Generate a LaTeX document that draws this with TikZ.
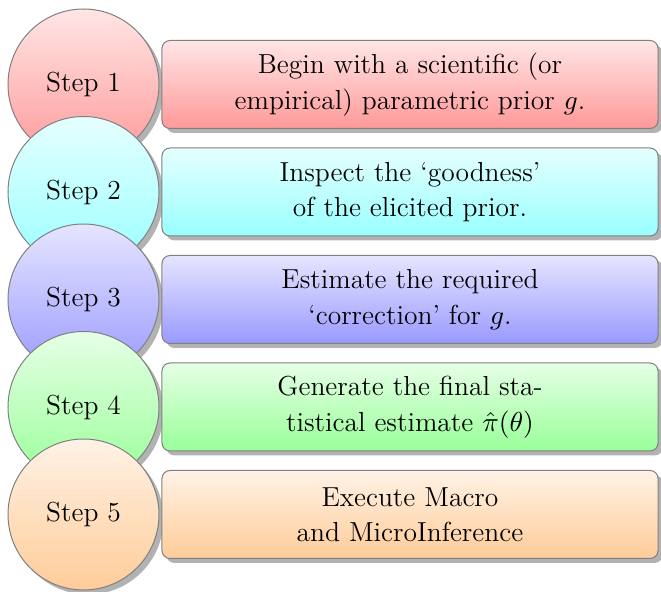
\documentclass[tikz,border=0pt]{standalone}
\usetikzlibrary{shadows}
\begin{document}
\begin{tikzpicture}[x=0.4pt,y=-0.4pt,font=\fontsize{11}{14.2}\selectfont,
  stepcircle/.style={circle, draw=black!50, minimum size=60.4pt, inner sep=0pt,
    drop shadow={fill=black!60, opacity=0.5, shadow xshift=1.8pt, shadow yshift=-1.8pt}},
  stepbox/.style={rectangle, rounded corners=3.2pt, draw=black!50, minimum width=198.4pt,
    minimum height=35.2pt, align=center, inner sep=0pt,
    drop shadow={fill=black!60, opacity=0.5, shadow xshift=1.8pt, shadow yshift=-1.8pt}}]
\useasboundingbox (0,0) rectangle (661,592);
\node[stepcircle, top color=red!10, bottom color=red!40] (c1) at (83.5,84.5) {Step 1};
\node[stepbox, top color=red!10, bottom color=red!40] (b1) at (410,84.5) {Begin with a scientific (or\\empirical) parametric prior $g$.};
\node[stepcircle, top color=cyan!10, bottom color=cyan!40] (c2) at (83.5,192) {Step 2};
\node[stepbox, top color=cyan!10, bottom color=cyan!40] (b2) at (410,192) {Inspect the `goodness'\\of the elicited prior.};
\node[stepcircle, top color=blue!10, bottom color=blue!40] (c3) at (83.5,299.5) {Step 3};
\node[stepbox, top color=blue!10, bottom color=blue!40] (b3) at (410,299.5) {Estimate the required\\`correction' for $g$.};
\node[stepcircle, top color=green!10, bottom color=green!40] (c4) at (83.5,407) {Step 4};
\node[stepbox, top color=green!10, bottom color=green!40] (b4) at (410,407) {Generate the final sta-\\tistical estimate $\hat{\pi}(\theta)$};
\node[stepcircle, top color=orange!10, bottom color=orange!40] (c5) at (83.5,514.5) {Step 5};
\node[stepbox, top color=orange!10, bottom color=orange!40] (b5) at (410,514.5) {Execute Macro\\and MicroInference};
\end{tikzpicture}
\end{document}
